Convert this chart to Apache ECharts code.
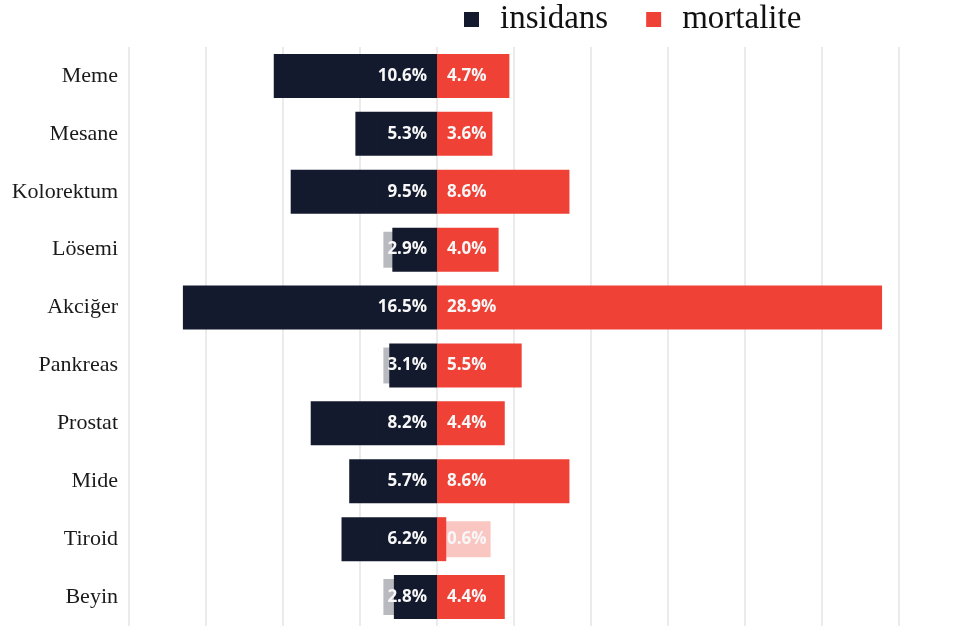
<!DOCTYPE html>
<html>
<head>
<meta charset="utf-8">
<script src="https://cdn.jsdelivr.net/npm/echarts@6/dist/echarts.min.js"></script>
<style>
  html, body { margin: 0; padding: 0; background: #fff; }
  #chart { width: 972px; height: 627px; }
</style>
</head>
<body>
<div id="chart"></div>
<script>
// Cancer sites, top to bottom
const categories = ['Meme', 'Mesane', 'Kolorektum', 'Lösemi', 'Akciğer', 'Pankreas', 'Prostat', 'Mide', 'Tiroid', 'Beyin'];
// Share of all cases (%)
const insidans = [10.6, 5.3, 9.5, 2.9, 16.5, 3.1, 8.2, 5.7, 6.2, 2.8];
// Share of all deaths (%)
const mortalite = [4.7, 3.6, 8.6, 4.0, 28.9, 5.5, 4.4, 8.6, 0.6, 4.4];

const NAVY = '#141a2e';
const RED = '#ef4136';

const fmt = p => Math.abs(p.value).toFixed(1) + '%';

const labelBase = {
  show: true,
  formatter: fmt,
  color: '#f7f7f7',
  fontFamily: 'Open Sans',
  fontWeight: 'bold',
  fontSize: 17,
  lineHeight: 20,
  padding: [8, 4],
  distance: 6
};

const chart = echarts.init(document.getElementById('chart'), null, { renderer: 'canvas' });
chart.setOption({
  animation: false,
  backgroundColor: '#fff',
  legend: {
    left: 459,
    top: -2,
    itemWidth: 15,
    itemHeight: 15,
    itemGap: 38,
    icon: 'rect',
    textStyle: {
      fontFamily: 'Liberation Serif',
      fontSize: 33,
      color: '#111',
      padding: [0, 0, 0, 16]
    },
    data: ['insidans', 'mortalite']
  },
  grid: { left: 129, right: 73, top: 47, bottom: 1, containLabel: false },
  xAxis: {
    type: 'value',
    min: -20,
    max: 30,
    interval: 5,
    axisLabel: { show: false },
    axisLine: { show: false },
    axisTick: { show: false },
    splitLine: { show: true, lineStyle: { color: '#e4e4e4', width: 1.5 } }
  },
  yAxis: {
    type: 'category',
    inverse: true,
    data: categories,
    axisLine: { show: false },
    axisTick: { show: false },
    axisLabel: {
      margin: 11,
      fontFamily: 'Liberation Serif',
      fontSize: 22,
      color: '#1a1a1a'
    }
  },
  series: [
    {
      name: 'insidans',
      type: 'bar',
      stack: 'pct',
      barWidth: 44,
      itemStyle: { color: NAVY },
      label: Object.assign({}, labelBase, {
        position: 'insideRight',
        backgroundColor: 'rgba(20,26,46,0.3)'
      }),
      data: insidans.map(v => -v)
    },
    {
      name: 'mortalite',
      type: 'bar',
      stack: 'pct',
      barWidth: 44,
      itemStyle: { color: RED },
      label: Object.assign({}, labelBase, {
        position: 'insideLeft',
        backgroundColor: 'rgba(239,65,54,0.3)'
      }),
      data: mortalite
    }
  ]
});
</script>
</body>
</html>
